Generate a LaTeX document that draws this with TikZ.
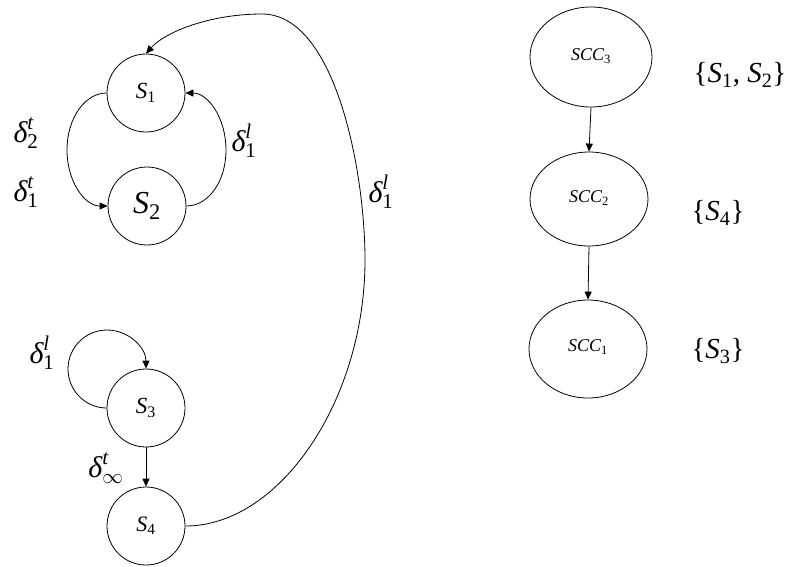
\documentclass[tikz,border=0pt]{standalone}
\usepackage{amsmath}
\usepackage{fontspec}
\setmainfont{Liberation Serif}
\usetikzlibrary{arrows.meta,shapes.geometric}
\newcommand{\Sx}[1]{$\textit{S}_{\textrm{#1}}$}
\newcommand{\Dx}[2]{$\textit{δ}^{\textit{#2}}_{\textrm{#1}}$}
\newcommand{\Cx}[1]{\textit{SCC}$_{\textrm{#1}}$}
\begin{document}
\begin{tikzpicture}[x=1pt,y=-1pt,line width=0.8pt,
  >={Triangle[length=8pt,width=7pt]},
  state/.style={circle,draw,minimum size=78pt,inner sep=0pt},
  scc/.style={ellipse,draw,inner sep=0pt},
  dl/.style={inner sep=0pt,font=\fontsize{30}{34}\selectfont},
  sl/.style={inner sep=0pt,font=\fontsize{29}{34}\selectfont}]
\useasboundingbox (0,0) rectangle (790,566);
\fill[white] (0,0) rectangle (790,566);
% states
\node[state,font=\fontsize{23}{26}\selectfont] (S1) at (146,93) {\Sx{1}};
\node[state,font=\fontsize{32}{36}\selectfont] (S2) at (147,206) {\Sx{2}};
\node[state,font=\fontsize{23}{26}\selectfont] (S3) at (146,408) {\Sx{3}};
\node[state,font=\fontsize{22}{26}\selectfont] (S4) at (146,526) {\Sx{4}};
% SCCs
\node[scc,minimum width=122pt,minimum height=100pt,font=\fontsize{18}{21}\selectfont] (C3) at (591,57) {\raisebox{5pt}{\Cx{3}}};
\node[scc,minimum width=118pt,minimum height=94pt,font=\fontsize{18}{21}\selectfont] (C2) at (589,199) {\raisebox{5pt}{\Cx{2}}};
\node[scc,minimum width=118pt,minimum height=98pt,font=\fontsize{18}{21}\selectfont] (C1) at (588,349) {\raisebox{6pt}{\Cx{1}}};
\draw[->] (C3.south) -- (C2.north);
\draw[->] (C2.south) -- (C1.north);
% set labels
\node[sl] (T3) at (740,75) {\{\Sx{1}, \Sx{2}\}};
\node[sl] (T2) at (718,213) {\{\Sx{4}\}};
\node[sl] (T1) at (718,351) {\{\Sx{3}\}};
% transitions
\draw[->] (S1.west) .. controls (85,93) and (67,118) .. (67,150)
  .. controls (67,182) and (85,206) .. (S2.west);
\draw[->] (S2.east) .. controls (208,206) and (226,182) .. (226,150)
  .. controls (226,118) and (208,93) .. (S1.east);
\draw[->] (S3.west) .. controls (85.5,408) and (68,390.5) .. (68,369)
  .. controls (68,347.5) and (85.5,330) .. (107,330)
  .. controls (128.5,330) and (146,347.5) .. (S3.north);
\draw[->] (S3.south) -- (S4.north);
\draw[->] (S4.east) .. controls (280,526) and (365,400) .. (365,260)
  .. controls (365,170) and (335,14) .. (262,14)
  .. controls (210,14) and (165,32) .. (S1.north);
% labels
\node[dl] (L1) at (26,133) {\Dx{2}{t}};
\node[dl] (L2) at (26,192) {\Dx{1}{t}};
\node[dl] (L3) at (244,141) {\Dx{1}{l}};
\node[dl] (L4) at (42,353) {\Dx{1}{l}};
\node[dl] (L5) at (106,468) {$\textit{δ}^{\textit{t}}_{\infty}$};
\node[dl] (L6) at (381,192) {\Dx{1}{l}};
\end{tikzpicture}
\end{document}
